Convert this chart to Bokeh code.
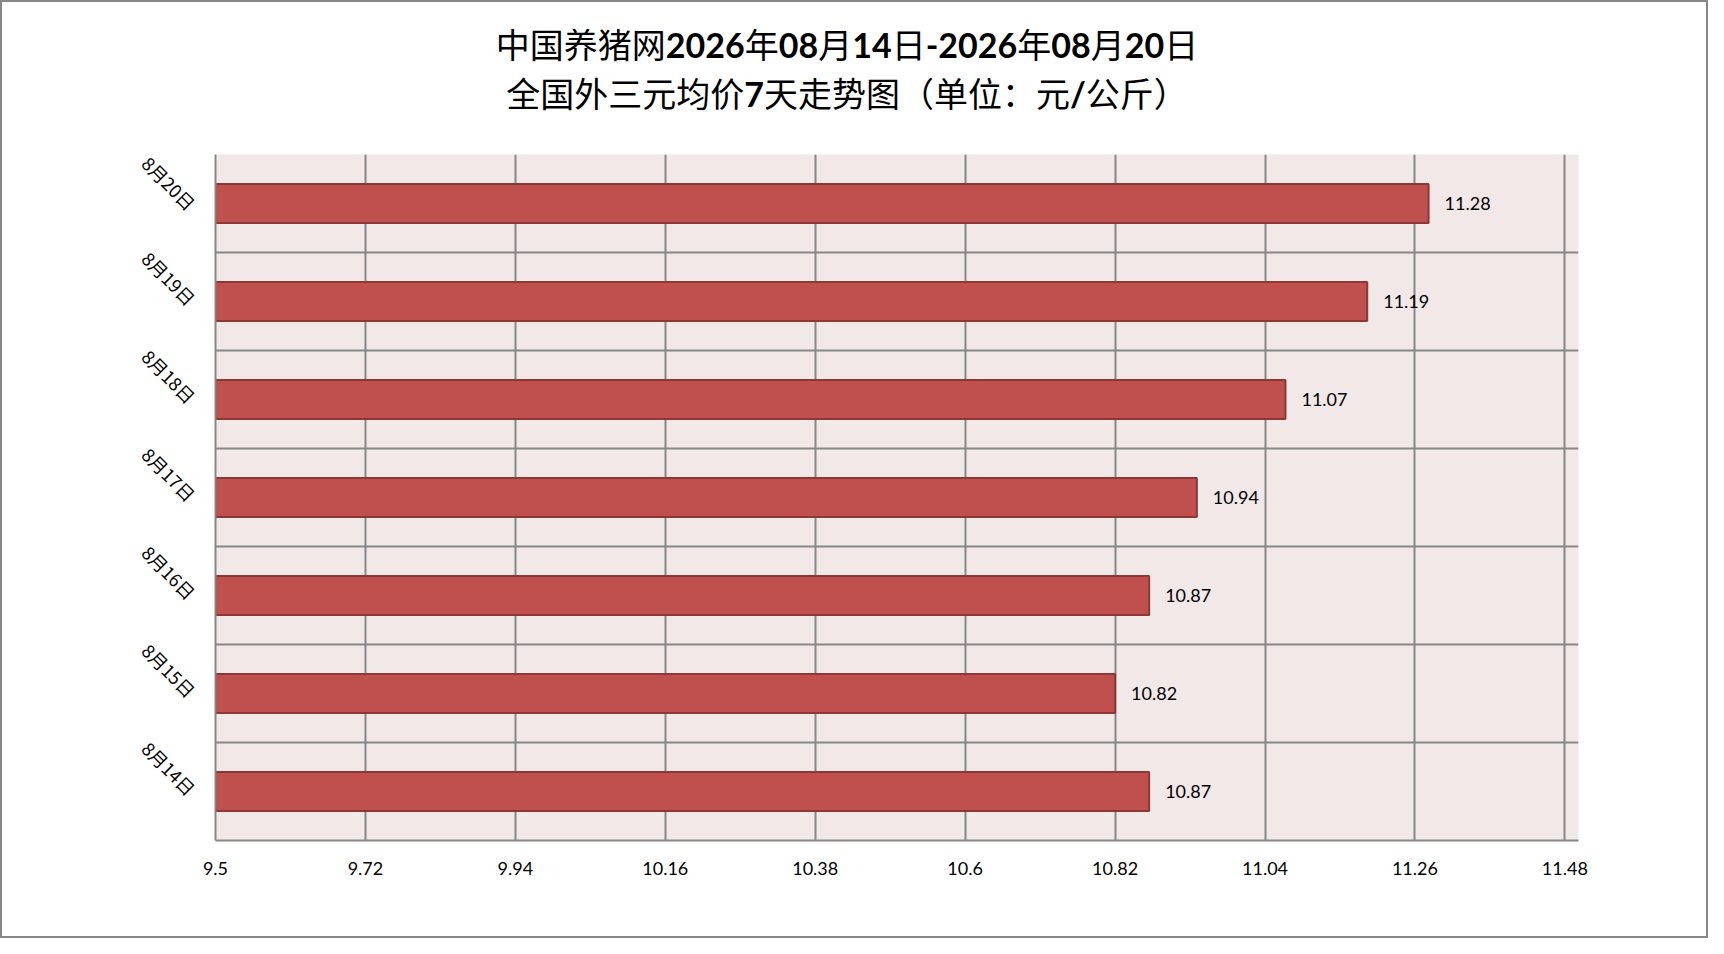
import re
from bokeh.plotting import figure
from bokeh.models import Range1d, FixedTicker, CustomJSTickFormatter, ColumnDataSource, Div
from bokeh.layouts import column
from bokeh.core.properties import value
from bokeh.embed import file_html
from bokeh.resources import INLINE

# ---- data ----
dates = ["8月14日", "8月15日", "8月16日", "8月17日", "8月18日", "8月19日", "8月20日"]
prices = [10.87, 10.82, 10.87, 10.94, 11.07, 11.19, 11.28]
x_ticks = [9.5, 9.72, 9.94, 10.16, 10.38, 10.6, 10.82, 11.04, 11.26, 11.48]
x_max = 11.5
title_line1 = "中国养猪网2026年08月14日-2026年08月20日"
title_line2 = "全国外三元均价7天走势图（单位：元/公斤）"

pos = list(range(1, len(dates) + 1))
labels = ["%.2f" % v for v in prices]
src = ColumnDataSource(dict(y=pos, right=prices, lab=labels))

W = 1704
TOP = 148
GRID = "#878787"


def bold_latin(s):
    return re.sub(r"([0-9/\-]+)", r'<b style="font-family:Lato;font-weight:700">\1</b>', s)


line_style = ("display:block;width:%dpx;height:49px;text-align:center;line-height:49px;"
              "font-size:34px;font-family:'Noto Sans CJK SC';color:black;white-space:nowrap") % (W - 14)
title_html = ('<div style="padding-top:17px">'
              '<div style="%s">%s</div><div style="%s">%s</div></div>') % (
    line_style, bold_latin(title_line1), line_style, bold_latin(title_line2))
title_div = Div(text=title_html, width=W, height=TOP, margin=0,
                styles={"background-color": "white"})

p = figure(width=W, height=934 - TOP, output_backend="svg", toolbar_location=None,
           x_range=Range1d(x_ticks[0], x_max), y_range=Range1d(0.5, len(dates) + 0.5),
           min_border_left=213, min_border_right=128, min_border_top=4, min_border_bottom=96,
           background_fill_color="#F2E8E8", border_fill_color="white", outline_line_color=None,
           margin=0)

p.hbar(y="y", right="right", left=x_ticks[0], height=0.4, source=src,
       fill_color="#C0504D", line_color="#8E3836", line_width=2)
p.text(x="right", y="y", text="lab", source=src, x_offset=16, text_baseline="middle",
       text_align="left", text_font=value("Lato"), text_font_size="18px", text_color="black")

# x axis
xa = p.xaxis[0]
xa.ticker = FixedTicker(ticks=x_ticks)
xa.formatter = CustomJSTickFormatter(code="return String(Math.round(tick*100)/100);")
xa.axis_line_color = GRID
xa.axis_line_width = 2
xa.major_tick_line_color = None
xa.minor_tick_line_color = None
xa.major_label_text_font = "Lato"
xa.major_label_text_font_size = "18px"
xa.major_label_text_color = "black"
xa.major_label_standoff = 15

# y axis
ya = p.yaxis[0]
ya.ticker = FixedTicker(ticks=pos)
ya.major_label_overrides = {i: d for i, d in zip(pos, dates)}
ya.major_label_orientation = -0.785398
ya.axis_line_color = GRID
ya.axis_line_width = 2
ya.major_tick_line_color = None
ya.minor_tick_line_color = None
ya.major_label_text_font = "Noto Sans CJK SC"
ya.major_label_text_font_size = "18px"
ya.major_label_text_color = "black"
ya.major_label_standoff = 17

p.xgrid.ticker = FixedTicker(ticks=x_ticks)
p.xgrid.grid_line_color = GRID
p.xgrid.grid_line_width = 2
p.ygrid.ticker = FixedTicker(ticks=[i + 0.5 for i in range(len(dates) + 1)])
p.ygrid.grid_line_color = GRID
p.ygrid.grid_line_width = 2

layout = column(title_div, p, spacing=0, margin=0,
                styles={"border": "2px solid #878787", "background-color": "white"})

open("out.html", "w").write(file_html(layout, INLINE))
